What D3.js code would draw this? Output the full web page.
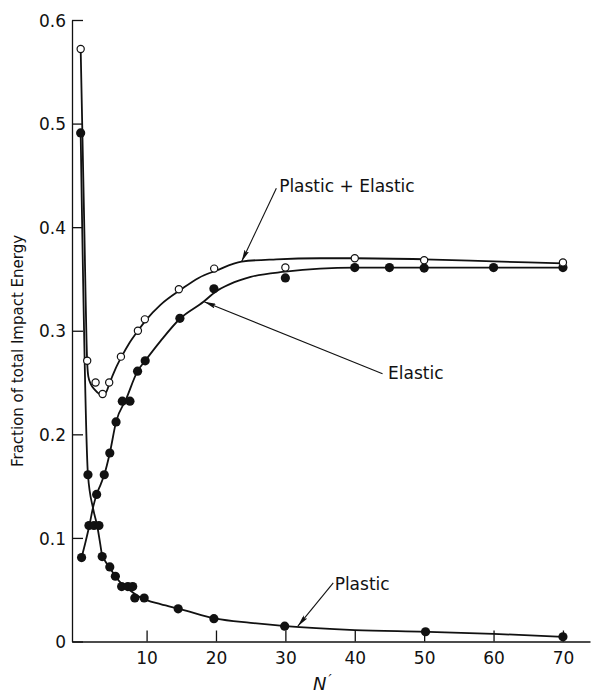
<!DOCTYPE html>
<html>
<head>
<meta charset="utf-8">
<script src="https://cdn.jsdelivr.net/npm/d3@7"></script>
<style>
	body { margin: 0; background: #fff; }
	svg text { font-family: "DejaVu Sans", sans-serif; fill: #111; }
</style>
</head>
<body>
<div class="chart"></div>
<script>
// measured points
var totalN = [0.5, 1.44, 2.65, 3.66, 4.61, 6.3, 8.75, 9.75, 14.65, 19.74, 30, 40, 50, 70];
var totalV = [0.572, 0.271, 0.250, 0.239, 0.250, 0.275, 0.300, 0.311, 0.340, 0.360, 0.361, 0.370, 0.368, 0.366];

var elasticN = [0.63, 1.69, 2.8, 3.9, 4.7, 5.6, 6.5, 7.6, 8.7, 9.8, 14.8, 19.7, 30, 40, 45, 50, 60, 70];
var elasticV = [0.081, 0.112, 0.142, 0.161, 0.182, 0.212, 0.232, 0.232, 0.261, 0.271, 0.312, 0.3405, 0.351, 0.361, 0.361, 0.3605, 0.361, 0.361];

var plasticN = [0.5, 1.55, 2.41, 3.13, 3.6, 4.7, 5.5, 6.4, 7.3, 8.0, 8.3, 9.65, 14.55, 19.7, 29.9, 50.2, 70];
var plasticV = [0.491, 0.161, 0.112, 0.112, 0.082, 0.072, 0.063, 0.053, 0.053, 0.053, 0.042, 0.042, 0.0315, 0.022, 0.0148, 0.0094, 0.0045];

// drawn (fitted) curves
var totalCurveN = [0.5, 1.0, 1.45, 1.6, 2.0, 2.55, 3.2, 3.75, 4.2, 4.7, 5.5, 6.4, 7.5, 8.75, 10, 12, 15, 17.5, 20, 23.7, 28.7, 35, 40, 50, 60, 70];
var totalCurveV = [0.572, 0.407, 0.268, 0.256, 0.248, 0.243, 0.239, 0.238, 0.241, 0.25, 0.263, 0.275, 0.288, 0.300, 0.311, 0.325, 0.34, 0.351, 0.358, 0.3668, 0.369, 0.370, 0.370, 0.369, 0.367, 0.365];

var elasticCurveN = [0.63, 1.2, 1.72, 2.3, 2.8, 3.4, 3.9, 4.7, 5.6, 7.05, 8.7, 9.8, 12, 14.8, 18.2, 20, 22, 25, 30, 35, 40, 50, 60, 70];
var elasticCurveV = [0.081, 0.096, 0.111, 0.13, 0.142, 0.152, 0.161, 0.182, 0.212, 0.234, 0.261, 0.271, 0.29, 0.3116, 0.328, 0.338, 0.345, 0.352, 0.357, 0.36, 0.361, 0.361, 0.361, 0.361];

var plasticCurveN = [0.5, 1.55, 2.3, 2.9, 3.3, 3.6, 4.0, 4.7, 5.5, 6.5, 7.5, 8.5, 10, 12, 15, 20, 25, 30, 40, 50, 60, 70];
var plasticCurveV = [0.4907, 0.161, 0.128, 0.111, 0.095, 0.083, 0.078, 0.071, 0.063, 0.055, 0.05, 0.045, 0.04, 0.036, 0.031, 0.022, 0.018, 0.0148, 0.011, 0.0094, 0.0074, 0.0045];

var xTicks = [10, 20, 30, 40, 50, 60, 70];
var yTicks = [0, 0.1, 0.2, 0.3, 0.4, 0.5, 0.6];

// annotations in data units: text position, arrow start, arrow tip
var notes = ["Plastic + Elastic", "Elastic", "Plastic"];
var noteN = [29.1, 44.8, 37.1];
var noteV = [0.434, 0.253, 0.050];
var fromN = [28.7, 44.0, 36.9];
var fromV = [0.4376, 0.2585, 0.0566];
var tipN = [23.7, 18.3, 31.8];
var tipV = [0.3668, 0.328, 0.0148];

var drawChart = function(){
	var w = 592;
	var h = 695;

	var x = d3.scaleLinear().domain([-0.75, 73.9]).range([72, 590]);
	var y = d3.scaleLinear().domain([0, 0.6]).range([641.5, 20]);

	var svg = d3.select('.chart').append('svg')
		.attr('width', w)
		.attr('height', h);

	svg.append('defs').append('marker')
		.attr('id', 'head')
		.attr('viewBox', '0 0 12 5')
		.attr('refX', 12)
		.attr('refY', 2.5)
		.attr('markerWidth', 12)
		.attr('markerHeight', 5)
		.attr('markerUnits', 'userSpaceOnUse')
		.attr('orient', 'auto')
		.append('path')
		.attr('d', 'M0,0 L12,2.5 L0,5 L2,2.5 Z')
		.attr('fill', '#111');

	/*---------------------------AXES--------------------------*/

	var xAxis = svg.append('g')
		.attr('transform', 'translate(0,' + y(0) + ')')
		.call(d3.axisBottom(x).tickValues(xTicks).tickSize(-11).tickSizeOuter(0).tickPadding(10).tickFormat(d3.format('d')));

	var yAxis = svg.append('g')
		.attr('transform', 'translate(' + x(-0.75) + ',0)')
		.call(d3.axisLeft(y).tickValues(yTicks).tickSize(-11).tickSizeOuter(0).tickPadding(6)
			.tickFormat(function(d){ return d === 0 ? '0' : d3.format('.1f')(d); }));

	svg.selectAll('.domain, .tick line')
		.attr('stroke', '#111')
		.attr('stroke-width', 1.3);

	svg.selectAll('.tick text')
		.style('font-size', '17px')
		.attr('fill', '#111');

	yAxis.selectAll('.tick text').attr('dy', '0.36em');

	svg.append('text')
		.attr('transform', 'translate(23,351) rotate(-90)')
		.attr('text-anchor', 'middle')
		.style('font-size', '15px')
		.text('Fraction of total Impact Energy');

	var xTitle = svg.append('text')
		.attr('x', 313)
		.attr('y', 690)
		.style('font-size', '18px')
		.style('font-style', 'italic');
	xTitle.append('tspan').text('N');
	xTitle.append('tspan').attr('dy', -6).attr('dx', 2).style('font-size', '14px').text('\u2032');

	/*---------------------------CURVES--------------------------*/

	var line = d3.line()
		.x(function(d){ return x(d[0]); })
		.y(function(d){ return y(d[1]); })
		.curve(d3.curveMonotoneX);

	var curves = [
		d3.zip(totalCurveN, totalCurveV),
		d3.zip(elasticCurveN, elasticCurveV),
		d3.zip(plasticCurveN, plasticCurveV)
	];

	svg.selectAll('.curve').data(curves)
		.enter()
		.append('path')
		.attr('class', 'curve')
		.attr('d', line)
		.attr('fill', 'none')
		.attr('stroke', '#111')
		.attr('stroke-width', 1.8);

	/*---------------------------POINTS--------------------------*/

	var filled = d3.zip(elasticN, elasticV).concat(d3.zip(plasticN, plasticV));

	svg.selectAll('.dot').data(filled)
		.enter()
		.append('circle')
		.attr('class', 'dot')
		.attr('cx', function(d){ return x(d[0]); })
		.attr('cy', function(d){ return y(d[1]); })
		.attr('r', 4.6)
		.attr('fill', '#111');

	svg.selectAll('.open').data(d3.zip(totalN, totalV))
		.enter()
		.append('circle')
		.attr('class', 'open')
		.attr('cx', function(d){ return x(d[0]); })
		.attr('cy', function(d){ return y(d[1]); })
		.attr('r', 3.6)
		.attr('fill', '#fff')
		.attr('stroke', '#111')
		.attr('stroke-width', 1.2);

	/*---------------------------LABELS--------------------------*/

	var ann = svg.selectAll('.note').data(notes)
		.enter()
		.append('g')
		.attr('class', 'note');

	ann.append('line')
		.attr('x1', function(d, i){ return x(fromN[i]); })
		.attr('y1', function(d, i){ return y(fromV[i]); })
		.attr('x2', function(d, i){ return x(tipN[i]); })
		.attr('y2', function(d, i){ return y(tipV[i]); })
		.attr('stroke', '#111')
		.attr('stroke-width', 1.1)
		.attr('marker-end', 'url(#head)');

	ann.append('text')
		.attr('x', function(d, i){ return x(noteN[i]); })
		.attr('y', function(d, i){ return y(noteV[i]); })
		.style('font-size', '17px')
		.text(function(d){ return d; });
}();
</script>
</body>
</html>
